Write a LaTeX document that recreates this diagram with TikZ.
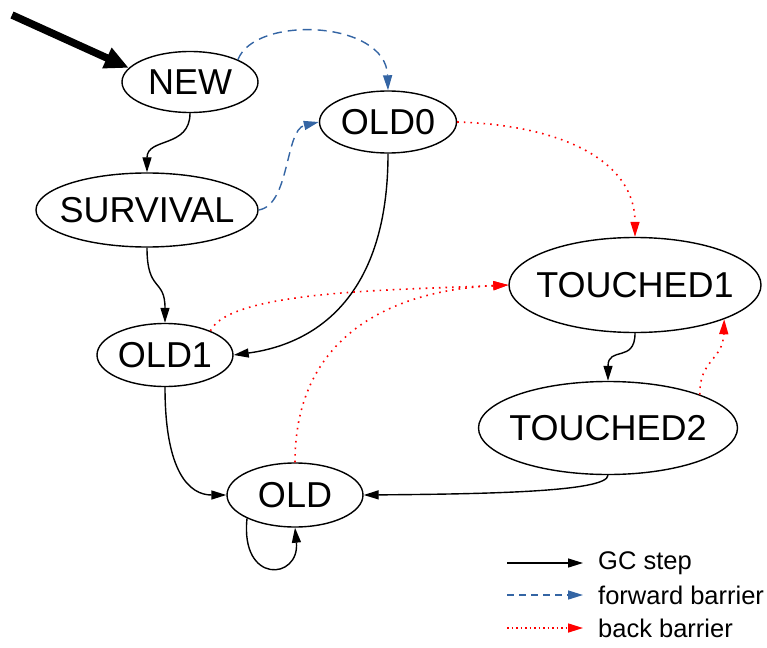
\documentclass[tikz,border=0pt]{standalone}
\usepackage{fontspec}
\setmainfont{Liberation Sans}
\usetikzlibrary{shapes.geometric,arrows.meta,calc}
\definecolor{fwdblue}{RGB}{52,101,164}
\tikzset{
  state/.style={ellipse,draw,line width=1.4pt,inner sep=0pt,font=\fontsize{36}{38}\selectfont},
  gcstep/.style={line width=1.4pt,-{Triangle[length=15pt,width=9pt]}},
  fwd/.style={line width=1.4pt,color=fwdblue,dash pattern=on 9pt off 6pt,-{Triangle[length=15pt,width=9pt]}},
  back/.style={line width=1.6pt,color=red,dash pattern=on 1.6pt off 5pt,-{Triangle[length=15pt,width=9pt]}},
  legtext/.style={anchor=west,inner sep=0pt,font=\fontsize{25.5}{27}\selectfont},
}
\newcommand{\lbl}[1]{\makebox[0pt]{#1}}
\begin{document}
\begin{tikzpicture}[x=1pt,y=-1pt]
\useasboundingbox (0,0) rectangle (767,647);
\node[state,minimum width=136pt,minimum height=61pt] (new) at (190,82) {\lbl{NEW}};
\node[state,minimum width=137pt,minimum height=62pt] (old0) at (388,122) {\lbl{OLD0}};
\node[state,minimum width=222pt,minimum height=74pt] (surv) at (147,210) {\lbl{SURVIVAL}};
\node[state,minimum width=252pt,minimum height=95pt] (t1) at (635,285) {\lbl{TOUCHED1}};
\node[state,minimum width=259pt,minimum height=93pt] (t2) at (608,428) {\lbl{TOUCHED2}};
\node[state,minimum width=136pt,minimum height=63pt] (old1) at (165,355) {\lbl{OLD1}};
\node[state,minimum width=136pt,minimum height=64pt] (old) at (295,495) {\lbl{OLD}};
\coordinate (start) at (12,15);
% start arrow
\draw[line width=7.5pt,-{Triangle[length=24pt,width=21pt]}] (start) -- (new.167);
% GC steps
\draw[gcstep] (new.south) .. controls ($(new.south)+(0,35)$) and ($(surv.north)+(0,-35)$) .. (surv.north);
\draw[gcstep] (surv.south) .. controls ($(surv.south)+(0,45)$) and ($(old1.north)+(0,-45)$) .. (old1.north);
\draw[gcstep] (old0.south) .. controls ($(old0.south)+(0,150)$) and ($(old1.east)+(75,-10)$) .. (old1.east);
\draw[gcstep] (t1.south) .. controls ($(t1.south)+(0,30)$) and ($(t2.north)+(0,-35)$) .. (t2.north);
\draw[gcstep] (t2.south) .. controls ($(t2.south)+(0,17)$) and ($(old.east)+(117,-1)$) .. (old.east);
\draw[gcstep] (old1.south) .. controls ($(old1.south)+(0,85)$) and ($(old.west)+(-37,0)$) .. (old.west);
\draw[gcstep] (old.-154) .. controls (240,585) and (300,580) .. (old.south);
% forward barriers
\draw[fwd] (new.25) .. controls (255,15) and (386,20) .. (old0.north);
\draw[fwd] (surv.east) .. controls (290,205) and (285,130) .. (old0.west);
% back barriers
\draw[back] (old0.east) .. controls (560,125) and (635,160) .. (t1.north);
\draw[back] (old1.28) .. controls (230,290) and (400,290) .. (t1.west);
\draw[back] (old.north) .. controls (295,330) and (400,290) .. (t1.west);
\draw[back] (t2.20) .. controls (699,360) and (723,360) .. (t1.-21);
% legend
\coordinate (l1a) at (507,563); \coordinate (l1b) at (583,563);
\coordinate (l2a) at (507,595); \coordinate (l2b) at (583,595);
\coordinate (l3a) at (507,628); \coordinate (l3b) at (583,628);
\draw[gcstep] (l1a) -- (l1b);
\draw[fwd,dash pattern=on 7pt off 5pt] (l2a) -- (l2b);
\draw[back,dash pattern=on 1.5pt off 3pt] (l3a) -- (l3b);
\node[legtext] (lt1) at (598,563) {GC step};
\node[legtext] (lt2) at (598,595) {forward barrier};
\node[legtext] (lt3) at (598,628) {back barrier};
\end{tikzpicture}
\end{document}
